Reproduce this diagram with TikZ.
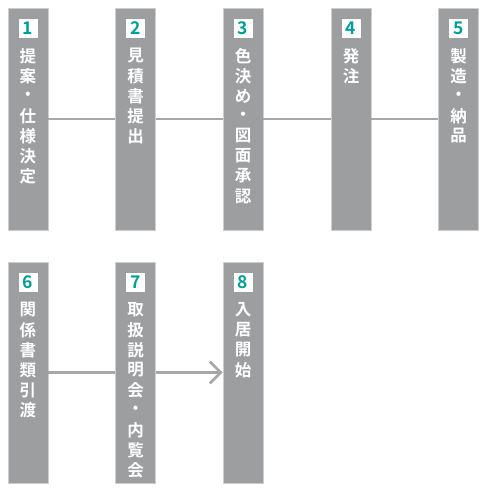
\documentclass[tikz,border=0pt]{standalone}
\usepackage{fontspec}
\usetikzlibrary{arrows.meta}
\newfontfamily\jpb{Noto Sans CJK JP Bold}
\definecolor{boxfill}{RGB}{157,158,160}
\definecolor{boxedge}{RGB}{205,206,207}
\definecolor{linegray}{RGB}{166,168,168}
\definecolor{numteal}{RGB}{0,160,154}
\begin{document}
\begin{tikzpicture}[x=1pt,y=-1pt,
  stepbox/.style={draw=boxedge, fill=boxfill, line width=0.8pt, minimum width=40pt, inner sep=0pt},
  numbox/.style={fill=white, minimum size=19pt, inner sep=0pt, text=numteal, font=\jpb\fontsize{17.5}{17.5}\selectfont},
  ch/.style={text=white, font=\jpb\fontsize{16.5}{17}\selectfont, inner sep=0pt},
  link/.style={draw=linegray, line width=2.6pt}]
\useasboundingbox (0,0) rectangle (487,493);
% row 1
\node[stepbox, minimum height=222pt] (b1) at (28,119) {};
\node[stepbox, minimum height=222pt] (b2) at (135.5,119) {};
\node[stepbox, minimum height=222pt] (b3) at (243,119) {};
\node[stepbox, minimum height=222pt] (b4) at (351,119) {};
\node[stepbox, minimum height=222pt] (b5) at (458.5,119) {};
% row 2
\node[stepbox, minimum height=221pt] (b6) at (28,372.5) {};
\node[stepbox, minimum height=221pt] (b7) at (135.5,372.5) {};
\node[stepbox, minimum height=221pt] (b8) at (243,372.5) {};
% connectors
\draw[link] (b1.east) -- (b2.west);
\draw[link] (b2.east) -- (b3.west);
\draw[link] (b3.east) -- (b4.west);
\draw[link] (b4.east) -- (b5.west);
\draw[link] (b6.east) -- (b7.west);
\draw[link, -{Straight Barb[length=11pt,width=22pt,line width=2.6pt]}] (b7.east) -- (b8.west);
% numbers
\node[numbox] (n1) at (28,28) {1};
\node[numbox] (n2) at (135.5,28) {2};
\node[numbox] (n3) at (243,28) {3};
\node[numbox] (n4) at (351,28) {4};
\node[numbox] (n5) at (458.5,28) {5};
\node[numbox] (n6) at (28,282) {6};
\node[numbox] (n7) at (135.5,282) {7};
\node[numbox] (n8) at (243,282) {8};
% texts
\foreach \c [count=\i] in {提,案,・,仕,様,決,定}
  \node[ch] (t1-\i) at (28,{56+20*(\i-1)}) {\c};
\foreach \c [count=\i] in {見,積,書,提,出}
  \node[ch] (t2-\i) at (135.5,{56+20*(\i-1)}) {\c};
\foreach \c [count=\i] in {色,決,め,・,図,面,承,認}
  \node[ch] (t3-\i) at (243,{56+20*(\i-1)}) {\c};
\foreach \c [count=\i] in {発,注}
  \node[ch] (t4-\i) at (351,{56+20*(\i-1)}) {\c};
\foreach \c [count=\i] in {製,造,・,納,品}
  \node[ch] (t5-\i) at (458.5,{56+20*(\i-1)}) {\c};
\foreach \c [count=\i] in {関,係,書,類,引,渡}
  \node[ch] (t6-\i) at (28,{310+20*(\i-1)}) {\c};
\foreach \c [count=\i] in {取,扱,説,明,会,・,内,覧,会}
  \node[ch] (t7-\i) at (135.5,{310+20*(\i-1)}) {\c};
\foreach \c [count=\i] in {入,居,開,始}
  \node[ch] (t8-\i) at (243,{310+20*(\i-1)}) {\c};
\end{tikzpicture}
\end{document}
